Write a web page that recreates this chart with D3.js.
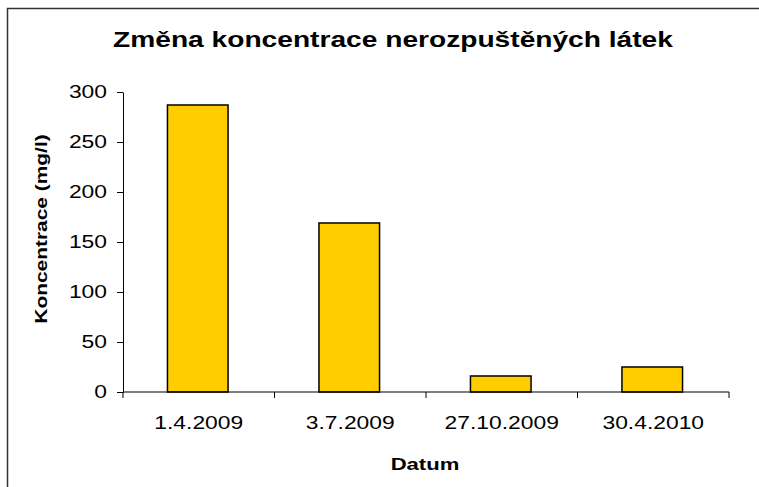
<!DOCTYPE html>
<html>
<head>
<meta charset="utf-8">
<script src="https://d3js.org/d3.v7.min.js"></script>
<style>
  body { margin: 0; background: #fff; }
  svg { font-family: "Liberation Sans", Arial, sans-serif; }
  .tick text { font-size: 18px; fill: #000; }
</style>
</head>
<body>
<div id="chart"></div>
<script>
(function(d3) {
  'use strict';

  var dates = ['1.4.2009', '3.7.2009', '27.10.2009', '30.4.2010'];
  var values = [287, 169, 16, 25];
  var yTicks = [0, 50, 100, 150, 200, 250, 300];

  var width = 759, height = 487;
  var margin = { left: 123, right: 30, top: 92, bottom: 95 };
  var stretchX = 1.27; // the original lettering is wider than plain Arial

  // widen text horizontally around its anchor point
  function stretch(sel, k) {
    sel.each(function() {
      var t = d3.select(this);
      var tx = +t.attr('x') || 0, ty = +t.attr('y') || 0;
      t.attr('x', 0).attr('y', 0)
        .attr('transform', 'translate(' + tx + ',' + ty + ') scale(' + k + ',1)');
    });
  }

  var svg = d3.select('#chart').append('svg')
    .attr('width', width)
    .attr('height', height);

  // outer frame (cut off on right/bottom)
  svg.append('rect')
    .attr('x', 7.5).attr('y', 8.5)
    .attr('width', 780).attr('height', 500)
    .attr('fill', 'none')
    .attr('stroke', '#333')
    .attr('stroke-width', 1.5);

  var x = d3.scaleBand()
    .domain(dates)
    .range([margin.left, width - margin.right])
    .padding(0);

  var y = d3.scaleLinear()
    .domain([0, 300])
    .range([height - margin.bottom, margin.top]);

  var barW = x.bandwidth() * 0.4;

  svg.selectAll('.bar')
    .data(values)
    .enter()
    .append('rect')
    .attr('class', 'bar')
    .attr('x', function(d, i) { return x(dates[i]) + (x.bandwidth() - barW) / 2 - 1; })
    .attr('y', function(d) { return y(d); })
    .attr('width', barW)
    .attr('height', function(d) { return y(0) - y(d); })
    .attr('fill', '#ffcc00')
    .attr('stroke', '#000')
    .attr('stroke-width', 1.5);

  // y axis
  var yAxis = svg.append('g')
    .attr('transform', 'translate(' + margin.left + ',0)')
    .call(d3.axisLeft(y).tickValues(yTicks).tickSize(6).tickPadding(10).tickSizeOuter(0));
  yAxis.select('.domain').attr('stroke', '#000');
  yAxis.selectAll('.tick line').attr('stroke', '#000');
  stretch(yAxis.selectAll('.tick text'), stretchX);

  // x axis with ticks at category boundaries
  var xg = svg.append('g')
    .attr('transform', 'translate(0,' + y(0) + ')');
  xg.append('line')
    .attr('x1', margin.left).attr('x2', width - margin.right)
    .attr('stroke', '#000');
  xg.selectAll('.bound')
    .data(dates.concat(['end']))
    .enter()
    .append('line')
    .attr('x1', function(d, i) { return i < dates.length ? x(d) : x(dates[dates.length - 1]) + x.bandwidth(); })
    .attr('x2', function(d, i) { return i < dates.length ? x(d) : x(dates[dates.length - 1]) + x.bandwidth(); })
    .attr('y1', 0).attr('y2', 6)
    .attr('stroke', '#000');
  var xl = xg.selectAll('.lbl')
    .data(dates)
    .enter()
    .append('text')
    .attr('x', function(d) { return x(d) + x.bandwidth() / 2; })
    .attr('y', 37)
    .attr('text-anchor', 'middle')
    .attr('font-size', 18)
    .text(function(d) { return d; });
  stretch(xl, stretchX);

  // title
  var title = svg.append('text')
    .attr('x', 393).attr('y', 47)
    .attr('text-anchor', 'middle')
    .attr('font-size', 22)
    .attr('font-weight', 'bold')
    .text('Změna koncentrace nerozpuštěných látek');
  stretch(title, 1.28);

  var xt = svg.append('text')
    .attr('x', 425).attr('y', 470)
    .attr('text-anchor', 'middle')
    .attr('font-size', 17)
    .attr('font-weight', 'bold')
    .text('Datum');
  stretch(xt, 1.3);

  svg.append('text')
    .attr('transform', 'translate(47,229) rotate(-90) scale(1.23,1)')
    .attr('text-anchor', 'middle')
    .attr('font-size', 17)
    .attr('font-weight', 'bold')
    .text('Koncentrace (mg/l)');

})(window.d3);
</script>
</body>
</html>
